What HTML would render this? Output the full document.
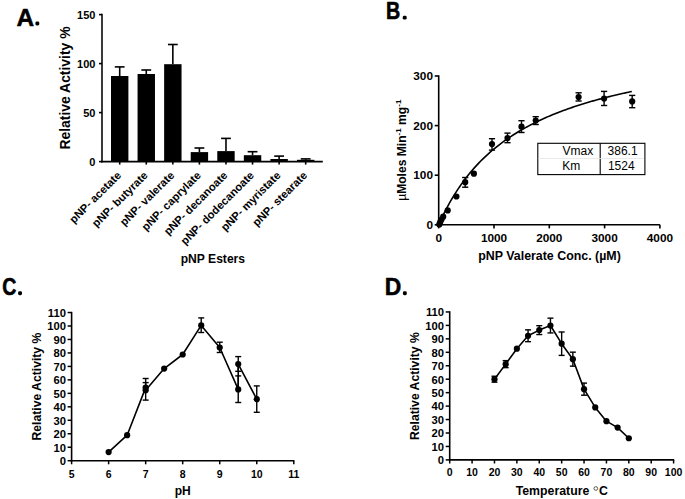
<!DOCTYPE html>
<html><head><meta charset="utf-8"><style>
html,body{margin:0;padding:0;background:#fff;}
svg{display:block;font-family:"Liberation Sans", sans-serif;}
</style></head><body>
<svg width="685" height="499" viewBox="0 0 685 499" fill="#000">
<text transform="translate(16.62 25.7) scale(0.984 1)" font-size="24.8" font-weight="bold" stroke="#000" stroke-width="0.508" stroke-linejoin="round">A</text>
<rect x="35.40" y="21.55" width="3.9" height="3.9" rx="1.4"/>
<text transform="translate(385.97 19.35) scale(0.793 1)" font-size="24.8" font-weight="bold" stroke="#000" stroke-width="0.631" stroke-linejoin="round">B</text>
<rect x="402.75" y="15.65" width="3.9" height="3.9" rx="1.4"/>
<text transform="translate(2.37 294.9) scale(0.797 1)" font-size="24.5" font-weight="bold" stroke="#000" stroke-width="0.627" stroke-linejoin="round">C</text>
<rect x="18.10" y="291.35" width="3.9" height="3.9" rx="1.4"/>
<text transform="translate(384.7 294.95) scale(0.94 1)" font-size="24.35" font-weight="bold" stroke="#000" stroke-width="0.532" stroke-linejoin="round">D</text>
<rect x="402.90" y="291.30" width="3.9" height="3.9" rx="1.4"/>
<line x1="102.00" y1="13.80" x2="102.00" y2="162.40" stroke="#000" stroke-width="1.55"/>
<line x1="101.20" y1="161.60" x2="322.80" y2="161.60" stroke="#000" stroke-width="1.6"/>
<line x1="99.00" y1="161.60" x2="102.00" y2="161.60" stroke="#000" stroke-width="1.6"/>
<text x="95.40" y="165.50" font-size="11" font-weight="bold" text-anchor="end" >0</text>
<line x1="99.00" y1="112.60" x2="102.00" y2="112.60" stroke="#000" stroke-width="1.6"/>
<text x="95.40" y="116.50" font-size="11" font-weight="bold" text-anchor="end" >50</text>
<line x1="99.00" y1="63.60" x2="102.00" y2="63.60" stroke="#000" stroke-width="1.6"/>
<text x="95.40" y="67.50" font-size="11" font-weight="bold" text-anchor="end" >100</text>
<line x1="99.00" y1="14.60" x2="102.00" y2="14.60" stroke="#000" stroke-width="1.6"/>
<text x="95.40" y="18.50" font-size="11" font-weight="bold" text-anchor="end" >150</text>
<line x1="119.70" y1="76.00" x2="119.70" y2="66.90" stroke="#000" stroke-width="1.6"/>
<line x1="114.80" y1="66.90" x2="124.60" y2="66.90" stroke="#000" stroke-width="1.6"/>
<rect x="111.00" y="76.00" width="17.4" height="85.60"/>
<line x1="119.70" y1="161.60" x2="119.70" y2="164.60" stroke="#000" stroke-width="1.6"/>
<text x="121.90" y="176.00" font-size="11.2" font-weight="bold" text-anchor="end" transform="rotate(-45 121.90 176.00)">pNP- acetate</text>
<line x1="146.27" y1="74.00" x2="146.27" y2="70.00" stroke="#000" stroke-width="1.6"/>
<line x1="141.37" y1="70.00" x2="151.17" y2="70.00" stroke="#000" stroke-width="1.6"/>
<rect x="137.57" y="74.00" width="17.4" height="87.60"/>
<line x1="146.27" y1="161.60" x2="146.27" y2="164.60" stroke="#000" stroke-width="1.6"/>
<text x="148.47" y="176.00" font-size="11.2" font-weight="bold" text-anchor="end" transform="rotate(-45 148.47 176.00)">pNP- butyrate</text>
<line x1="172.84" y1="64.20" x2="172.84" y2="44.50" stroke="#000" stroke-width="1.6"/>
<line x1="167.94" y1="44.50" x2="177.74" y2="44.50" stroke="#000" stroke-width="1.6"/>
<rect x="164.14" y="64.20" width="17.4" height="97.40"/>
<line x1="172.84" y1="161.60" x2="172.84" y2="164.60" stroke="#000" stroke-width="1.6"/>
<text x="175.04" y="176.00" font-size="11.2" font-weight="bold" text-anchor="end" transform="rotate(-45 175.04 176.00)">pNP- valerate</text>
<line x1="199.41" y1="152.10" x2="199.41" y2="148.00" stroke="#000" stroke-width="1.6"/>
<line x1="194.51" y1="148.00" x2="204.31" y2="148.00" stroke="#000" stroke-width="1.6"/>
<rect x="190.71" y="152.10" width="17.4" height="9.50"/>
<line x1="199.41" y1="161.60" x2="199.41" y2="164.60" stroke="#000" stroke-width="1.6"/>
<text x="201.61" y="176.00" font-size="11.2" font-weight="bold" text-anchor="end" transform="rotate(-45 201.61 176.00)">pNP- caprylate</text>
<line x1="225.98" y1="151.10" x2="225.98" y2="138.40" stroke="#000" stroke-width="1.6"/>
<line x1="221.08" y1="138.40" x2="230.88" y2="138.40" stroke="#000" stroke-width="1.6"/>
<rect x="217.28" y="151.10" width="17.4" height="10.50"/>
<line x1="225.98" y1="161.60" x2="225.98" y2="164.60" stroke="#000" stroke-width="1.6"/>
<text x="228.18" y="176.00" font-size="11.2" font-weight="bold" text-anchor="end" transform="rotate(-45 228.18 176.00)">pNP- decanoate</text>
<line x1="252.55" y1="155.20" x2="252.55" y2="151.70" stroke="#000" stroke-width="1.6"/>
<line x1="247.65" y1="151.70" x2="257.45" y2="151.70" stroke="#000" stroke-width="1.6"/>
<rect x="243.85" y="155.20" width="17.4" height="6.40"/>
<line x1="252.55" y1="161.60" x2="252.55" y2="164.60" stroke="#000" stroke-width="1.6"/>
<text x="254.75" y="176.00" font-size="11.2" font-weight="bold" text-anchor="end" transform="rotate(-45 254.75 176.00)">pNP- dodecanoate</text>
<line x1="279.12" y1="159.00" x2="279.12" y2="156.10" stroke="#000" stroke-width="1.6"/>
<line x1="274.22" y1="156.10" x2="284.02" y2="156.10" stroke="#000" stroke-width="1.6"/>
<rect x="270.42" y="159.00" width="17.4" height="2.60"/>
<line x1="279.12" y1="161.60" x2="279.12" y2="164.60" stroke="#000" stroke-width="1.6"/>
<text x="281.32" y="176.00" font-size="11.2" font-weight="bold" text-anchor="end" transform="rotate(-45 281.32 176.00)">pNP- myristate</text>
<line x1="305.69" y1="159.80" x2="305.69" y2="158.90" stroke="#000" stroke-width="1.6"/>
<line x1="300.79" y1="158.90" x2="310.59" y2="158.90" stroke="#000" stroke-width="1.6"/>
<rect x="296.99" y="159.80" width="17.4" height="1.80"/>
<line x1="305.69" y1="161.60" x2="305.69" y2="164.60" stroke="#000" stroke-width="1.6"/>
<text x="307.89" y="176.00" font-size="11.2" font-weight="bold" text-anchor="end" transform="rotate(-45 307.89 176.00)">pNP- stearate</text>
<text x="69.60" y="88.00" font-size="13.9" font-weight="bold" text-anchor="middle" transform="rotate(-90 69.6 88)">Relative Activity %</text>
<text x="212.90" y="263.20" font-size="12.1" font-weight="bold" text-anchor="middle" >pNP Esters</text>
<line x1="438.70" y1="75.30" x2="438.70" y2="225.50" stroke="#000" stroke-width="1.6"/>
<line x1="437.90" y1="224.80" x2="659.90" y2="224.80" stroke="#000" stroke-width="1.6"/>
<line x1="434.70" y1="224.80" x2="438.70" y2="224.80" stroke="#000" stroke-width="1.6"/>
<text x="433.00" y="228.90" font-size="11.8" font-weight="bold" text-anchor="end" >0</text>
<line x1="434.70" y1="175.20" x2="438.70" y2="175.20" stroke="#000" stroke-width="1.6"/>
<text x="433.00" y="179.30" font-size="11.8" font-weight="bold" text-anchor="end" >100</text>
<line x1="434.70" y1="125.60" x2="438.70" y2="125.60" stroke="#000" stroke-width="1.6"/>
<text x="433.00" y="129.70" font-size="11.8" font-weight="bold" text-anchor="end" >200</text>
<line x1="434.70" y1="76.00" x2="438.70" y2="76.00" stroke="#000" stroke-width="1.6"/>
<text x="433.00" y="80.10" font-size="11.8" font-weight="bold" text-anchor="end" >300</text>
<line x1="438.70" y1="224.80" x2="438.70" y2="228.40" stroke="#000" stroke-width="1.6"/>
<text x="438.70" y="242.30" font-size="11.8" font-weight="bold" text-anchor="middle" >0</text>
<line x1="494.00" y1="224.80" x2="494.00" y2="228.40" stroke="#000" stroke-width="1.6"/>
<text x="494.00" y="242.30" font-size="11.8" font-weight="bold" text-anchor="middle" >1000</text>
<line x1="549.30" y1="224.80" x2="549.30" y2="228.40" stroke="#000" stroke-width="1.6"/>
<text x="549.30" y="242.30" font-size="11.8" font-weight="bold" text-anchor="middle" >2000</text>
<line x1="604.60" y1="224.80" x2="604.60" y2="228.40" stroke="#000" stroke-width="1.6"/>
<text x="604.60" y="242.30" font-size="11.8" font-weight="bold" text-anchor="middle" >3000</text>
<line x1="659.90" y1="224.80" x2="659.90" y2="228.40" stroke="#000" stroke-width="1.6"/>
<text x="659.90" y="242.30" font-size="11.8" font-weight="bold" text-anchor="middle" >4000</text>
<polyline points="438.70,224.80 440.31,221.21 441.92,217.76 443.53,214.42 445.14,211.21 446.75,208.11 448.36,205.12 449.96,202.22 451.57,199.42 453.18,196.72 454.79,194.10 456.40,191.56 458.01,189.10 459.62,186.72 461.23,184.40 462.84,182.16 464.45,179.98 466.06,177.87 467.67,175.82 469.28,173.82 470.88,171.88 472.49,169.99 474.10,168.15 475.71,166.36 477.32,164.62 478.93,162.92 480.54,161.27 482.15,159.65 483.76,158.08 485.37,156.55 486.98,155.05 488.59,153.59 490.20,152.17 491.80,150.77 493.41,149.41 495.02,148.08 496.63,146.79 498.24,145.52 499.85,144.27 501.46,143.06 503.07,141.87 504.68,140.71 506.29,139.57 507.90,138.46 509.51,137.36 511.12,136.30 512.72,135.25 514.33,134.22 515.94,133.22 517.55,132.23 519.16,131.27 520.77,130.32 522.38,129.39 523.99,128.48 525.60,127.58 527.21,126.70 528.82,125.84 530.43,124.99 532.04,124.16 533.64,123.35 535.25,122.55 536.86,121.76 538.47,120.99 540.08,120.23 541.69,119.48 543.30,118.74 544.91,118.02 546.52,117.31 548.13,116.61 549.74,115.93 551.35,115.25 552.96,114.59 554.56,113.94 556.17,113.29 557.78,112.66 559.39,112.04 561.00,111.42 562.61,110.82 564.22,110.22 565.83,109.64 567.44,109.06 569.05,108.49 570.66,107.93 572.27,107.38 573.88,106.84 575.48,106.30 577.09,105.78 578.70,105.26 580.31,104.74 581.92,104.24 583.53,103.74 585.14,103.25 586.75,102.76 588.36,102.29 589.97,101.81 591.58,101.35 593.19,100.89 594.80,100.44 596.40,99.99 598.01,99.55 599.62,99.12 601.23,98.69 602.84,98.26 604.45,97.85 606.06,97.43 607.67,97.03 609.28,96.62 610.89,96.23 612.50,95.83 614.11,95.45 615.72,95.06 617.32,94.68 618.93,94.31 620.54,93.94 622.15,93.58 623.76,93.22 625.37,92.86 626.98,92.51 628.59,92.16 630.20,91.82 631.81,91.48" fill="none" stroke="#000" stroke-width="1.6"/>
<circle cx="439.30" cy="224.40" r="3.1"/>
<circle cx="440.20" cy="222.20" r="3.1"/>
<circle cx="441.50" cy="219.60" r="3.1"/>
<circle cx="443.20" cy="216.70" r="3.1"/>
<circle cx="447.70" cy="210.40" r="3.1"/>
<circle cx="456.40" cy="196.50" r="3.1"/>
<line x1="465.20" y1="177.50" x2="465.20" y2="187.20" stroke="#000" stroke-width="1.4"/>
<line x1="462.10" y1="177.50" x2="468.30" y2="177.50" stroke="#000" stroke-width="1.4"/>
<line x1="462.10" y1="187.20" x2="468.30" y2="187.20" stroke="#000" stroke-width="1.4"/>
<circle cx="465.20" cy="182.20" r="3.1"/>
<circle cx="473.90" cy="173.70" r="3.1"/>
<line x1="492.00" y1="138.70" x2="492.00" y2="150.10" stroke="#000" stroke-width="1.4"/>
<line x1="488.90" y1="138.70" x2="495.10" y2="138.70" stroke="#000" stroke-width="1.4"/>
<line x1="488.90" y1="150.10" x2="495.10" y2="150.10" stroke="#000" stroke-width="1.4"/>
<circle cx="492.00" cy="144.10" r="3.1"/>
<line x1="507.50" y1="133.10" x2="507.50" y2="142.70" stroke="#000" stroke-width="1.4"/>
<line x1="504.40" y1="133.10" x2="510.60" y2="133.10" stroke="#000" stroke-width="1.4"/>
<line x1="504.40" y1="142.70" x2="510.60" y2="142.70" stroke="#000" stroke-width="1.4"/>
<circle cx="507.50" cy="138.10" r="3.1"/>
<line x1="521.50" y1="120.70" x2="521.50" y2="132.50" stroke="#000" stroke-width="1.4"/>
<line x1="518.40" y1="120.70" x2="524.60" y2="120.70" stroke="#000" stroke-width="1.4"/>
<line x1="518.40" y1="132.50" x2="524.60" y2="132.50" stroke="#000" stroke-width="1.4"/>
<circle cx="521.50" cy="126.70" r="3.1"/>
<line x1="535.70" y1="116.70" x2="535.70" y2="124.50" stroke="#000" stroke-width="1.4"/>
<line x1="532.60" y1="116.70" x2="538.80" y2="116.70" stroke="#000" stroke-width="1.4"/>
<line x1="532.60" y1="124.50" x2="538.80" y2="124.50" stroke="#000" stroke-width="1.4"/>
<circle cx="535.70" cy="120.50" r="3.1"/>
<line x1="578.60" y1="92.80" x2="578.60" y2="101.00" stroke="#000" stroke-width="1.4"/>
<line x1="575.50" y1="92.80" x2="581.70" y2="92.80" stroke="#000" stroke-width="1.4"/>
<line x1="575.50" y1="101.00" x2="581.70" y2="101.00" stroke="#000" stroke-width="1.4"/>
<circle cx="578.60" cy="97.00" r="3.1"/>
<line x1="604.10" y1="91.40" x2="604.10" y2="105.50" stroke="#000" stroke-width="1.4"/>
<line x1="601.00" y1="91.40" x2="607.20" y2="91.40" stroke="#000" stroke-width="1.4"/>
<line x1="601.00" y1="105.50" x2="607.20" y2="105.50" stroke="#000" stroke-width="1.4"/>
<circle cx="604.10" cy="98.60" r="3.1"/>
<line x1="632.20" y1="95.40" x2="632.20" y2="107.70" stroke="#000" stroke-width="1.4"/>
<line x1="629.10" y1="95.40" x2="635.30" y2="95.40" stroke="#000" stroke-width="1.4"/>
<line x1="629.10" y1="107.70" x2="635.30" y2="107.70" stroke="#000" stroke-width="1.4"/>
<circle cx="632.20" cy="101.40" r="3.1"/>
<rect x="537.8" y="143.3" width="107.1" height="31.3" fill="none" stroke="#000" stroke-width="1.1"/>
<line x1="600.20" y1="143.30" x2="600.20" y2="174.60" stroke="#000" stroke-width="1.1"/>
<line x1="538.30" y1="158.50" x2="644.20" y2="158.50" stroke="#e4e4e4" stroke-width="0.8"/>
<text x="562.50" y="154.90" font-size="12" font-weight="normal" text-anchor="start" >Vmax</text>
<text x="562.30" y="169.90" font-size="12" font-weight="normal" text-anchor="start" >Km</text>
<text x="607.60" y="154.90" font-size="12" font-weight="normal" text-anchor="start" >386.1</text>
<text x="607.90" y="169.90" font-size="12" font-weight="normal" text-anchor="start" >1524</text>
<text x="405.80" y="150.20" font-size="12.1" font-weight="bold" text-anchor="middle" transform="rotate(-90 405.8 150.2)"><tspan font-weight="normal">µ</tspan>Moles Min<tspan dy="-4.5" font-size="8">-1</tspan><tspan dy="4.5"> mg</tspan><tspan dy="-4.5" font-size="8">-1</tspan></text>
<text x="549.50" y="259.60" font-size="12.4" font-weight="bold" text-anchor="middle" >pNP Valerate Conc. (µM)</text>
<line x1="71.60" y1="311.83" x2="71.60" y2="461.40" stroke="#000" stroke-width="1.6"/>
<line x1="70.80" y1="460.70" x2="294.38" y2="460.70" stroke="#000" stroke-width="1.6"/>
<line x1="67.60" y1="460.70" x2="71.60" y2="460.70" stroke="#000" stroke-width="1.5"/>
<text transform="translate(65.90 465.00) scale(1.07 1)" font-size="10.5" font-weight="bold" text-anchor="end">0</text>
<line x1="67.60" y1="447.23" x2="71.60" y2="447.23" stroke="#000" stroke-width="1.5"/>
<text transform="translate(65.90 451.53) scale(1.07 1)" font-size="10.5" font-weight="bold" text-anchor="end">10</text>
<line x1="67.60" y1="433.76" x2="71.60" y2="433.76" stroke="#000" stroke-width="1.5"/>
<text transform="translate(65.90 438.06) scale(1.07 1)" font-size="10.5" font-weight="bold" text-anchor="end">20</text>
<line x1="67.60" y1="420.29" x2="71.60" y2="420.29" stroke="#000" stroke-width="1.5"/>
<text transform="translate(65.90 424.59) scale(1.07 1)" font-size="10.5" font-weight="bold" text-anchor="end">30</text>
<line x1="67.60" y1="406.82" x2="71.60" y2="406.82" stroke="#000" stroke-width="1.5"/>
<text transform="translate(65.90 411.12) scale(1.07 1)" font-size="10.5" font-weight="bold" text-anchor="end">40</text>
<line x1="67.60" y1="393.35" x2="71.60" y2="393.35" stroke="#000" stroke-width="1.5"/>
<text transform="translate(65.90 397.65) scale(1.07 1)" font-size="10.5" font-weight="bold" text-anchor="end">50</text>
<line x1="67.60" y1="379.88" x2="71.60" y2="379.88" stroke="#000" stroke-width="1.5"/>
<text transform="translate(65.90 384.18) scale(1.07 1)" font-size="10.5" font-weight="bold" text-anchor="end">60</text>
<line x1="67.60" y1="366.41" x2="71.60" y2="366.41" stroke="#000" stroke-width="1.5"/>
<text transform="translate(65.90 370.71) scale(1.07 1)" font-size="10.5" font-weight="bold" text-anchor="end">70</text>
<line x1="67.60" y1="352.94" x2="71.60" y2="352.94" stroke="#000" stroke-width="1.5"/>
<text transform="translate(65.90 357.24) scale(1.07 1)" font-size="10.5" font-weight="bold" text-anchor="end">80</text>
<line x1="67.60" y1="339.47" x2="71.60" y2="339.47" stroke="#000" stroke-width="1.5"/>
<text transform="translate(65.90 343.77) scale(1.07 1)" font-size="10.5" font-weight="bold" text-anchor="end">90</text>
<line x1="67.60" y1="326.00" x2="71.60" y2="326.00" stroke="#000" stroke-width="1.5"/>
<text transform="translate(65.90 330.30) scale(1.07 1)" font-size="10.5" font-weight="bold" text-anchor="end">100</text>
<line x1="67.60" y1="312.53" x2="71.60" y2="312.53" stroke="#000" stroke-width="1.5"/>
<text transform="translate(65.90 316.83) scale(1.07 1)" font-size="10.5" font-weight="bold" text-anchor="end">110</text>
<line x1="71.60" y1="460.70" x2="71.60" y2="464.30" stroke="#000" stroke-width="1.5"/>
<text x="71.60" y="477.70" font-size="10.5" font-weight="bold" text-anchor="middle" >5</text>
<line x1="108.63" y1="460.70" x2="108.63" y2="464.30" stroke="#000" stroke-width="1.5"/>
<text x="108.63" y="477.70" font-size="10.5" font-weight="bold" text-anchor="middle" >6</text>
<line x1="145.66" y1="460.70" x2="145.66" y2="464.30" stroke="#000" stroke-width="1.5"/>
<text x="145.66" y="477.70" font-size="10.5" font-weight="bold" text-anchor="middle" >7</text>
<line x1="182.69" y1="460.70" x2="182.69" y2="464.30" stroke="#000" stroke-width="1.5"/>
<text x="182.69" y="477.70" font-size="10.5" font-weight="bold" text-anchor="middle" >8</text>
<line x1="219.72" y1="460.70" x2="219.72" y2="464.30" stroke="#000" stroke-width="1.5"/>
<text x="219.72" y="477.70" font-size="10.5" font-weight="bold" text-anchor="middle" >9</text>
<line x1="256.75" y1="460.70" x2="256.75" y2="464.30" stroke="#000" stroke-width="1.5"/>
<text x="256.75" y="477.70" font-size="10.5" font-weight="bold" text-anchor="middle" >10</text>
<line x1="293.78" y1="460.70" x2="293.78" y2="464.30" stroke="#000" stroke-width="1.5"/>
<text x="293.78" y="477.70" font-size="10.5" font-weight="bold" text-anchor="middle" >11</text>
<polyline points="108.63,452.10 127.14,435.20 145.66,387.60 145.66,390.20 164.18,368.60 182.69,354.50 201.21,325.40 219.72,347.50 238.23,389.40 238.23,364.10 256.75,399.20" fill="none" stroke="#000" stroke-width="1.6" stroke-linejoin="round"/>
<circle cx="108.63" cy="452.10" r="3.1"/>
<circle cx="127.14" cy="435.20" r="3.1"/>
<line x1="145.66" y1="378.50" x2="145.66" y2="387.60" stroke="#000" stroke-width="1.4"/>
<line x1="142.66" y1="378.50" x2="148.66" y2="378.50" stroke="#000" stroke-width="1.4"/>
<circle cx="145.66" cy="387.60" r="3.1"/>
<line x1="145.66" y1="382.60" x2="145.66" y2="400.10" stroke="#000" stroke-width="1.4"/>
<line x1="142.66" y1="382.60" x2="148.66" y2="382.60" stroke="#000" stroke-width="1.4"/>
<line x1="142.66" y1="400.10" x2="148.66" y2="400.10" stroke="#000" stroke-width="1.4"/>
<circle cx="145.66" cy="390.20" r="3.1"/>
<circle cx="164.18" cy="368.60" r="3.1"/>
<circle cx="182.69" cy="354.50" r="3.1"/>
<line x1="201.21" y1="317.90" x2="201.21" y2="332.50" stroke="#000" stroke-width="1.4"/>
<line x1="198.21" y1="317.90" x2="204.21" y2="317.90" stroke="#000" stroke-width="1.4"/>
<line x1="198.21" y1="332.50" x2="204.21" y2="332.50" stroke="#000" stroke-width="1.4"/>
<circle cx="201.21" cy="325.40" r="3.1"/>
<line x1="219.72" y1="342.20" x2="219.72" y2="352.50" stroke="#000" stroke-width="1.4"/>
<line x1="216.72" y1="342.20" x2="222.72" y2="342.20" stroke="#000" stroke-width="1.4"/>
<line x1="216.72" y1="352.50" x2="222.72" y2="352.50" stroke="#000" stroke-width="1.4"/>
<circle cx="219.72" cy="347.50" r="3.1"/>
<line x1="238.23" y1="375.90" x2="238.23" y2="402.50" stroke="#000" stroke-width="1.4"/>
<line x1="235.23" y1="375.90" x2="241.23" y2="375.90" stroke="#000" stroke-width="1.4"/>
<line x1="235.23" y1="402.50" x2="241.23" y2="402.50" stroke="#000" stroke-width="1.4"/>
<circle cx="238.23" cy="389.40" r="3.1"/>
<line x1="238.23" y1="356.60" x2="238.23" y2="371.30" stroke="#000" stroke-width="1.4"/>
<line x1="235.23" y1="356.60" x2="241.23" y2="356.60" stroke="#000" stroke-width="1.4"/>
<line x1="235.23" y1="371.30" x2="241.23" y2="371.30" stroke="#000" stroke-width="1.4"/>
<circle cx="238.23" cy="364.10" r="3.1"/>
<line x1="256.75" y1="385.90" x2="256.75" y2="412.30" stroke="#000" stroke-width="1.4"/>
<line x1="253.75" y1="385.90" x2="259.75" y2="385.90" stroke="#000" stroke-width="1.4"/>
<line x1="253.75" y1="412.30" x2="259.75" y2="412.30" stroke="#000" stroke-width="1.4"/>
<circle cx="256.75" cy="399.20" r="3.1"/>
<text x="41.10" y="386.60" font-size="12.2" font-weight="bold" text-anchor="middle" transform="rotate(-90 41.1 386.6)">Relative Activity %</text>
<text x="182.70" y="494.90" font-size="12.0" font-weight="bold" text-anchor="middle" >pH</text>
<line x1="449.70" y1="311.25" x2="449.70" y2="460.60" stroke="#000" stroke-width="1.6"/>
<line x1="448.90" y1="459.90" x2="674.20" y2="459.90" stroke="#000" stroke-width="1.6"/>
<line x1="445.70" y1="459.90" x2="449.70" y2="459.90" stroke="#000" stroke-width="1.5"/>
<text transform="translate(444.10 464.20) scale(1.07 1)" font-size="10.5" font-weight="bold" text-anchor="end">0</text>
<line x1="445.70" y1="446.45" x2="449.70" y2="446.45" stroke="#000" stroke-width="1.5"/>
<text transform="translate(444.10 450.75) scale(1.07 1)" font-size="10.5" font-weight="bold" text-anchor="end">10</text>
<line x1="445.70" y1="433.00" x2="449.70" y2="433.00" stroke="#000" stroke-width="1.5"/>
<text transform="translate(444.10 437.30) scale(1.07 1)" font-size="10.5" font-weight="bold" text-anchor="end">20</text>
<line x1="445.70" y1="419.55" x2="449.70" y2="419.55" stroke="#000" stroke-width="1.5"/>
<text transform="translate(444.10 423.85) scale(1.07 1)" font-size="10.5" font-weight="bold" text-anchor="end">30</text>
<line x1="445.70" y1="406.10" x2="449.70" y2="406.10" stroke="#000" stroke-width="1.5"/>
<text transform="translate(444.10 410.40) scale(1.07 1)" font-size="10.5" font-weight="bold" text-anchor="end">40</text>
<line x1="445.70" y1="392.65" x2="449.70" y2="392.65" stroke="#000" stroke-width="1.5"/>
<text transform="translate(444.10 396.95) scale(1.07 1)" font-size="10.5" font-weight="bold" text-anchor="end">50</text>
<line x1="445.70" y1="379.20" x2="449.70" y2="379.20" stroke="#000" stroke-width="1.5"/>
<text transform="translate(444.10 383.50) scale(1.07 1)" font-size="10.5" font-weight="bold" text-anchor="end">60</text>
<line x1="445.70" y1="365.75" x2="449.70" y2="365.75" stroke="#000" stroke-width="1.5"/>
<text transform="translate(444.10 370.05) scale(1.07 1)" font-size="10.5" font-weight="bold" text-anchor="end">70</text>
<line x1="445.70" y1="352.30" x2="449.70" y2="352.30" stroke="#000" stroke-width="1.5"/>
<text transform="translate(444.10 356.60) scale(1.07 1)" font-size="10.5" font-weight="bold" text-anchor="end">80</text>
<line x1="445.70" y1="338.85" x2="449.70" y2="338.85" stroke="#000" stroke-width="1.5"/>
<text transform="translate(444.10 343.15) scale(1.07 1)" font-size="10.5" font-weight="bold" text-anchor="end">90</text>
<line x1="445.70" y1="325.40" x2="449.70" y2="325.40" stroke="#000" stroke-width="1.5"/>
<text transform="translate(444.10 329.70) scale(1.07 1)" font-size="10.5" font-weight="bold" text-anchor="end">100</text>
<line x1="445.70" y1="311.95" x2="449.70" y2="311.95" stroke="#000" stroke-width="1.5"/>
<text transform="translate(444.10 316.25) scale(1.07 1)" font-size="10.5" font-weight="bold" text-anchor="end">110</text>
<line x1="449.70" y1="459.90" x2="449.70" y2="463.50" stroke="#000" stroke-width="1.5"/>
<text x="449.70" y="476.00" font-size="10.5" font-weight="bold" text-anchor="middle" >0</text>
<line x1="472.09" y1="459.90" x2="472.09" y2="463.50" stroke="#000" stroke-width="1.5"/>
<text x="472.09" y="476.00" font-size="10.5" font-weight="bold" text-anchor="middle" >10</text>
<line x1="494.48" y1="459.90" x2="494.48" y2="463.50" stroke="#000" stroke-width="1.5"/>
<text x="494.48" y="476.00" font-size="10.5" font-weight="bold" text-anchor="middle" >20</text>
<line x1="516.87" y1="459.90" x2="516.87" y2="463.50" stroke="#000" stroke-width="1.5"/>
<text x="516.87" y="476.00" font-size="10.5" font-weight="bold" text-anchor="middle" >30</text>
<line x1="539.26" y1="459.90" x2="539.26" y2="463.50" stroke="#000" stroke-width="1.5"/>
<text x="539.26" y="476.00" font-size="10.5" font-weight="bold" text-anchor="middle" >40</text>
<line x1="561.65" y1="459.90" x2="561.65" y2="463.50" stroke="#000" stroke-width="1.5"/>
<text x="561.65" y="476.00" font-size="10.5" font-weight="bold" text-anchor="middle" >50</text>
<line x1="584.04" y1="459.90" x2="584.04" y2="463.50" stroke="#000" stroke-width="1.5"/>
<text x="584.04" y="476.00" font-size="10.5" font-weight="bold" text-anchor="middle" >60</text>
<line x1="606.43" y1="459.90" x2="606.43" y2="463.50" stroke="#000" stroke-width="1.5"/>
<text x="606.43" y="476.00" font-size="10.5" font-weight="bold" text-anchor="middle" >70</text>
<line x1="628.82" y1="459.90" x2="628.82" y2="463.50" stroke="#000" stroke-width="1.5"/>
<text x="628.82" y="476.00" font-size="10.5" font-weight="bold" text-anchor="middle" >80</text>
<line x1="651.21" y1="459.90" x2="651.21" y2="463.50" stroke="#000" stroke-width="1.5"/>
<text x="651.21" y="476.00" font-size="10.5" font-weight="bold" text-anchor="middle" >90</text>
<line x1="673.60" y1="459.90" x2="673.60" y2="463.50" stroke="#000" stroke-width="1.5"/>
<text x="673.60" y="476.00" font-size="10.5" font-weight="bold" text-anchor="middle" >100</text>
<polyline points="494.48,379.20 505.67,364.14 516.87,348.67 528.06,335.76 539.26,330.11 550.45,325.53 561.65,343.69 572.85,359.16 584.04,389.15 595.24,407.44 606.43,421.16 617.62,427.62 628.82,438.25" fill="none" stroke="#000" stroke-width="1.6" stroke-linejoin="round"/>
<line x1="494.48" y1="376.24" x2="494.48" y2="382.16" stroke="#000" stroke-width="1.4"/>
<line x1="491.48" y1="376.24" x2="497.48" y2="376.24" stroke="#000" stroke-width="1.4"/>
<line x1="491.48" y1="382.16" x2="497.48" y2="382.16" stroke="#000" stroke-width="1.4"/>
<circle cx="494.48" cy="379.20" r="3.1"/>
<line x1="505.67" y1="360.64" x2="505.67" y2="367.63" stroke="#000" stroke-width="1.4"/>
<line x1="502.67" y1="360.64" x2="508.67" y2="360.64" stroke="#000" stroke-width="1.4"/>
<line x1="502.67" y1="367.63" x2="508.67" y2="367.63" stroke="#000" stroke-width="1.4"/>
<circle cx="505.67" cy="364.14" r="3.1"/>
<circle cx="516.87" cy="348.67" r="3.1"/>
<line x1="528.06" y1="329.84" x2="528.06" y2="341.67" stroke="#000" stroke-width="1.4"/>
<line x1="525.06" y1="329.84" x2="531.06" y2="329.84" stroke="#000" stroke-width="1.4"/>
<line x1="525.06" y1="341.67" x2="531.06" y2="341.67" stroke="#000" stroke-width="1.4"/>
<circle cx="528.06" cy="335.76" r="3.1"/>
<line x1="539.26" y1="325.67" x2="539.26" y2="334.55" stroke="#000" stroke-width="1.4"/>
<line x1="536.26" y1="325.67" x2="542.26" y2="325.67" stroke="#000" stroke-width="1.4"/>
<line x1="536.26" y1="334.55" x2="542.26" y2="334.55" stroke="#000" stroke-width="1.4"/>
<circle cx="539.26" cy="330.11" r="3.1"/>
<line x1="550.45" y1="318.14" x2="550.45" y2="332.93" stroke="#000" stroke-width="1.4"/>
<line x1="547.45" y1="318.14" x2="553.45" y2="318.14" stroke="#000" stroke-width="1.4"/>
<line x1="547.45" y1="332.93" x2="553.45" y2="332.93" stroke="#000" stroke-width="1.4"/>
<circle cx="550.45" cy="325.53" r="3.1"/>
<line x1="561.65" y1="331.99" x2="561.65" y2="355.39" stroke="#000" stroke-width="1.4"/>
<line x1="558.65" y1="331.99" x2="564.65" y2="331.99" stroke="#000" stroke-width="1.4"/>
<line x1="558.65" y1="355.39" x2="564.65" y2="355.39" stroke="#000" stroke-width="1.4"/>
<circle cx="561.65" cy="343.69" r="3.1"/>
<line x1="572.85" y1="352.17" x2="572.85" y2="366.15" stroke="#000" stroke-width="1.4"/>
<line x1="569.85" y1="352.17" x2="575.85" y2="352.17" stroke="#000" stroke-width="1.4"/>
<line x1="569.85" y1="366.15" x2="575.85" y2="366.15" stroke="#000" stroke-width="1.4"/>
<circle cx="572.85" cy="359.16" r="3.1"/>
<line x1="584.04" y1="383.10" x2="584.04" y2="395.21" stroke="#000" stroke-width="1.4"/>
<line x1="581.04" y1="383.10" x2="587.04" y2="383.10" stroke="#000" stroke-width="1.4"/>
<line x1="581.04" y1="395.21" x2="587.04" y2="395.21" stroke="#000" stroke-width="1.4"/>
<circle cx="584.04" cy="389.15" r="3.1"/>
<circle cx="595.24" cy="407.44" r="3.1"/>
<circle cx="606.43" cy="421.16" r="3.1"/>
<circle cx="617.62" cy="427.62" r="3.1"/>
<circle cx="628.82" cy="438.25" r="3.1"/>
<text x="418.70" y="386.10" font-size="12.2" font-weight="bold" text-anchor="middle" transform="rotate(-90 418.7 386.1)">Relative Activity %</text>
<text x="515.70" y="495.10" font-size="12.3" font-weight="bold" text-anchor="start" >Temperature</text>
<circle cx="595.8" cy="488.5" r="1.85" fill="none" stroke="#333" stroke-width="0.8"/>
<text x="599.00" y="495.10" font-size="12.3" font-weight="bold" text-anchor="start" >C</text>
</svg>
</body></html>
